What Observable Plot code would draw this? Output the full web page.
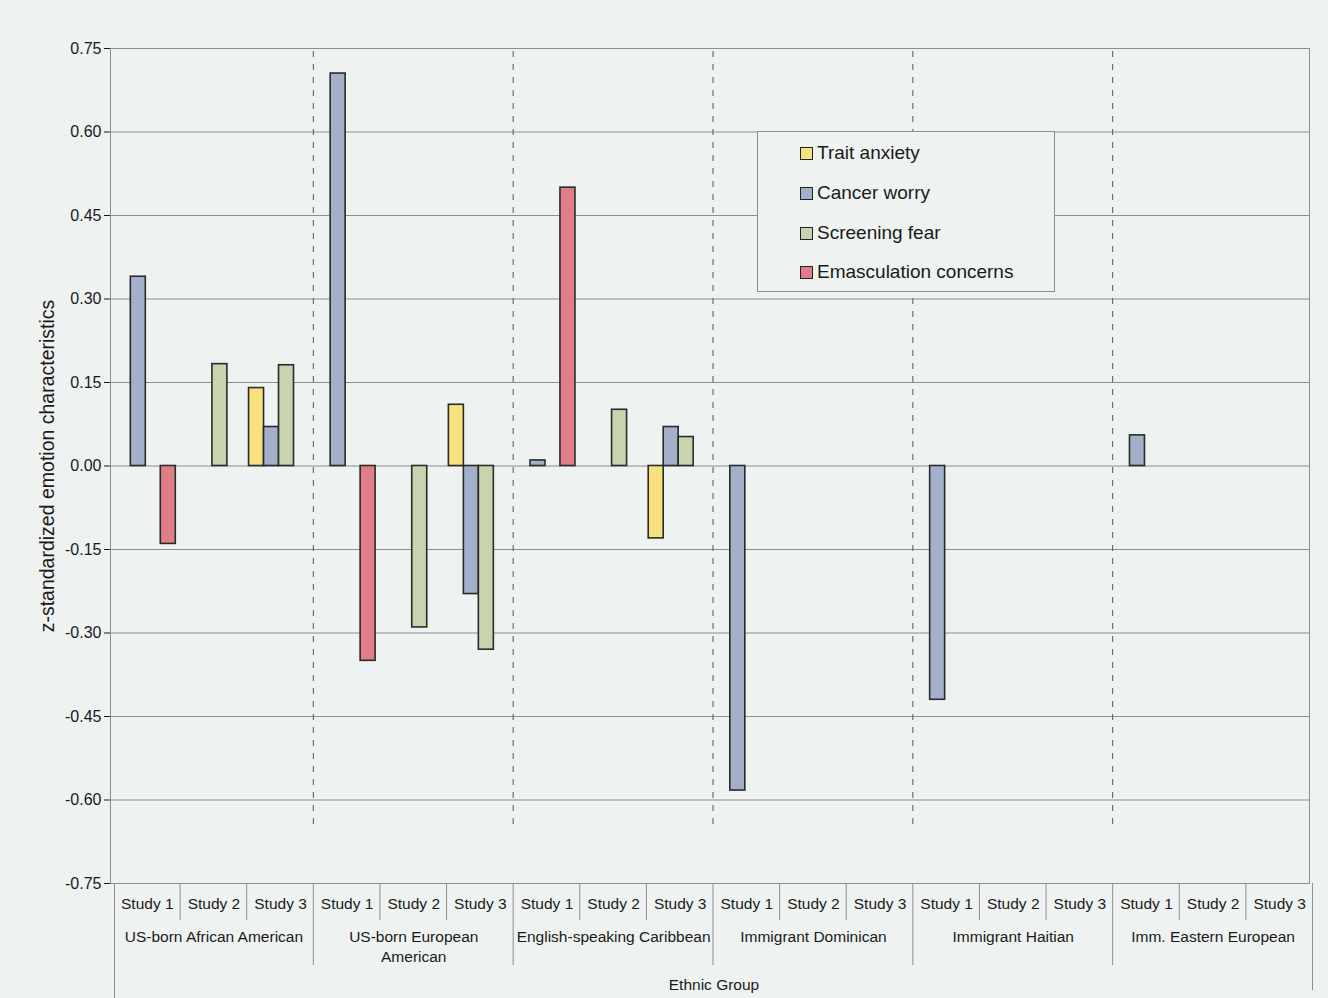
<!DOCTYPE html>
<html>
<head>
<meta charset="utf-8">
<script src="https://cdn.jsdelivr.net/npm/d3@7"></script>
<script src="https://cdn.jsdelivr.net/npm/@observablehq/plot@0.6"></script>
<style>
  html, body { margin: 0; padding: 0; background: #eef2f0; }
  #wrap { position: relative; width: 1328px; height: 998px; font-family: "Liberation Sans", Arial, sans-serif; }
  #legend { position: absolute; left: 757px; top: 131px; width: 298px; height: 161px; box-sizing: border-box;
            border: 1px solid #8c8c8c; background: #eef2f0; }
  .lg-row { position: absolute; left: 42px; height: 22px; display: flex; align-items: center; font-size: 19px; color: #1a1a1a; }
  .lg-sw { width: 11px; height: 11px; border: 1.5px solid #222; margin-right: 4px; box-sizing: content-box; }
</style>
</head>
<body>
<div id="wrap"><div id="legend"></div></div>
<script>
// ---- data ----
const groups = ["US-born African American", "US-born European\nAmerican", "English-speaking Caribbean",
                "Immigrant Dominican", "Immigrant Haitian", "Imm. Eastern European"];
const studies = ["Study 1", "Study 2", "Study 3"];
const seriesNames = ["Trait anxiety", "Cancer worry", "Screening fear", "Emasculation concerns"];
const seriesColors = ["#f8e17f", "#a3b0ca", "#c7d4ad", "#df7e87"];
const yTicks = [0.75, 0.60, 0.45, 0.30, 0.15, 0.00, -0.15, -0.30, -0.45, -0.60, -0.75];

// values per group x study (group-major), null = no bar
const traitAnxiety  = [null, null, 0.14,   null, null, 0.11,   null, null, -0.13,  null, null, null,  null, null, null,  null, null, null];
const cancerWorry   = [0.34, null, 0.07,   0.705, null, -0.23, 0.01, null, 0.07,   -0.583, null, null, -0.42, null, null, 0.055, null, null];
const screeningFear = [null, 0.183, 0.181, null, -0.29, -0.33, null, 0.101, 0.052, null, null, null,  null, null, null,  null, null, null];
const emasculation  = [-0.14, null, null,  -0.35, null, null,  0.50, null, null,   null, null, null,  null, null, null,  null, null, null];
const seriesValues = [traitAnxiety, cancerWorry, screeningFear, emasculation];

// ---- derived tables ----
const cats = [];
groups.forEach((g, gi) => studies.forEach((s, si) => cats.push({key: gi + "|" + si, group: g, gi, study: s, si})));
const rows = [];
seriesValues.forEach((vals, k) => vals.forEach((v, i) => { if (v != null) rows.push({key: cats[i].key, series: k, value: v}); }));

// ---- layout ----
const W = 1328, H = 998, mL = 110, mR = 19, mT = 48, mB = 115;
const bw = (W - mL - mR) / cats.length;
const plotH = H - mT - mB;
const padL = bw * 0.08, barW = bw * 0.225;
const axShift = 3; // lower category axis is drawn slightly right of the plot bands

const barMarks = seriesNames.map((name, k) =>
  Plot.barY(rows.filter(d => d.series === k), {
    x: "key", y: "value", fill: seriesColors[k], stroke: "#2a2a2a", strokeWidth: 1.6,
    insetLeft: padL + k * barW, insetRight: bw - padL - (k + 1) * barW
  })
);

const groupStarts = cats.filter(c => c.si === 0);
const innerStarts = cats.filter(c => c.si > 0);
const groupMiddles = cats.filter(c => c.si === 1);

const chart = Plot.plot({
  width: W, height: H,
  marginLeft: mL, marginRight: mR, marginTop: mT, marginBottom: mB,
  style: {background: "#eef2f0", fontFamily: "Liberation Sans, Arial, sans-serif", fontSize: "16px", color: "#1a1a1a"},
  x: {domain: cats.map(c => c.key), padding: 0, round: false, axis: null},
  y: {domain: [-0.75, 0.75], ticks: yTicks, tickFormat: d => d.toFixed(2), tickSize: 6, tickPadding: 3, label: null},
  marks: [
    Plot.ruleY(yTicks, {stroke: "#8e8e8e", strokeWidth: 1}),
    Plot.frame({stroke: "#8e8e8e", strokeWidth: 1}),
    // dashed group separators inside the plot
    Plot.ruleX(groupStarts.slice(1), {x: "key", dx: -bw / 2 + 3, stroke: "#555", strokeWidth: 1,
      strokeDasharray: "6,7", insetTop: 3, insetBottom: 53}),
    ...barMarks,
    // category axis outline below plot
    Plot.ruleX(innerStarts, {x: "key", dx: -bw / 2 + axShift, stroke: "#8e8e8e", insetTop: plotH, insetBottom: -37}),
    Plot.ruleX(groupStarts.slice(1), {x: "key", dx: -bw / 2 + axShift, stroke: "#8e8e8e", insetTop: plotH, insetBottom: -82}),
    Plot.ruleX(groupStarts.slice(0, 1), {x: "key", dx: -bw / 2 + axShift + 1, stroke: "#8e8e8e", insetTop: plotH, insetBottom: -115}),
    Plot.ruleX(cats.slice(-1), {x: "key", dx: bw / 2 + axShift, stroke: "#8e8e8e", insetTop: plotH, insetBottom: -107}),
    Plot.text(cats, {x: "key", text: "study", frameAnchor: "bottom", lineAnchor: "top", dy: 14, dx: axShift + 0.5, fontSize: 15.5}),
    Plot.text(groupMiddles, {x: "key", text: "group", frameAnchor: "bottom", lineAnchor: "top", dy: 44, dx: axShift + 0.5,
      fontSize: 15.5, lineHeight: 1.3}),
    Plot.text(["Ethnic Group"], {frameAnchor: "bottom", lineAnchor: "top", dy: 95, dx: 4, fontSize: 15.5}),
    Plot.text(["z-standardized emotion characteristics"], {frameAnchor: "left", textAnchor: "middle",
      rotate: -90, dx: -63, fontSize: 19.5})
  ]
});
document.getElementById("wrap").prepend(chart);

// ---- legend ----
const legend = d3.select("#legend");
const rowTops = [10, 50, 90, 129];
seriesNames.forEach((name, k) => {
  const r = legend.append("div").attr("class", "lg-row").style("top", rowTops[k] + "px");
  r.append("div").attr("class", "lg-sw").style("background", seriesColors[k]);
  r.append("span").text(name);
});
</script>
</body>
</html>
